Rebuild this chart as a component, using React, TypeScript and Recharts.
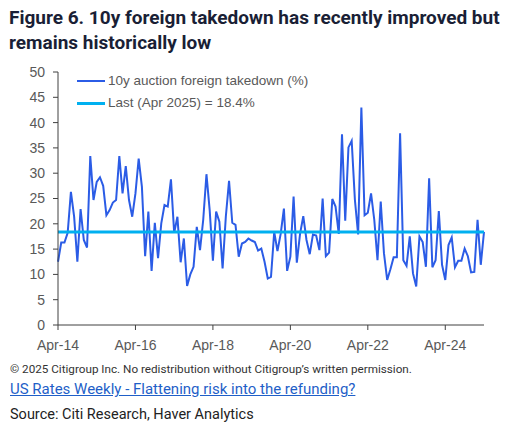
import { CartesianGrid, Line, LineChart, ReferenceLine, XAxis, YAxis } from "recharts";

// 10y auction foreign takedown (%), monthly, Apr-14 .. Apr-25
const takedown = [
  12.5, 16.3, 16.3, 18.2, 26.3, 21.4, 12.5, 22.9, 16.8, 15.3, 33.4, 24.7,
  28.3, 29.2, 27.5, 21.7, 22.7, 24.2, 24.7, 33.4, 26.0, 31.4, 24.7, 21.4,
  26.0, 32.9, 27.3, 13.6, 22.4, 10.7, 20.2, 13.2, 20.1, 23.7, 23.4, 28.8,
  18.2, 21.4, 12.4, 17.1, 7.7, 10.0, 11.5, 19.4, 14.8, 20.8, 29.8, 22.7,
  12.7, 22.4, 20.4, 11.2, 21.4, 28.5, 20.2, 19.8, 13.5, 16.1, 16.4, 17.1,
  16.7, 16.4, 14.7, 15.1, 12.5, 9.2, 9.5, 18.4, 14.6, 18.0, 23.0, 10.7,
  13.5, 25.4, 12.3, 18.0, 21.5, 16.8, 14.0, 17.9, 17.7, 14.8, 25.0, 13.6,
  14.3, 24.9, 23.4, 18.0, 37.7, 20.6, 35.1, 36.4, 24.7, 17.9, 43.0, 21.7,
  22.2, 26.0, 20.8, 12.8, 24.4, 14.2, 8.9, 11.0, 13.4, 13.4, 37.9, 12.8,
  11.7, 17.5, 10.2, 7.6, 17.5, 16.4, 11.5, 29.0, 11.4, 12.8, 22.5, 11.9,
  8.9, 15.8, 17.3, 11.4, 12.7, 12.7, 15.1, 13.6, 10.4, 10.5, 20.8, 11.9,
  18.4,
];

const lastValue = 18.4;
const tickIndex = [0, 24, 48, 72, 96, 120];
const tickLabels = ["Apr-14", "Apr-16", "Apr-18", "Apr-20", "Apr-22", "Apr-24"];
const yTicks = [0, 5, 10, 15, 20, 25, 30, 35, 40, 45, 50];

const BLUE = "#2b5ce6";
const CYAN = "#00b0f0";
const AXIS = "#404040";
const TEXT = "#595959";
const FONT = "'Liberation Sans', Arial, sans-serif";

const data = takedown.map((v, i) => ({ i, v }));

export default function App() {
  const fmtX = (i: number) => tickLabels[tickIndex.indexOf(i)] ?? "";

  return (
    <div
      style={{
        position: "absolute",
        left: 0,
        top: 0,
        width: 532,
        height: 426,
        background: "#fff",
        fontFamily: "Roboto, sans-serif",
      }}
    >
      <div
        style={{
          position: "absolute",
          left: 9,
          top: 5,
          width: 525,
          fontSize: 19,
          lineHeight: "25px",
          fontWeight: 700,
          color: "#1a1f36",
          whiteSpace: "nowrap",
        }}
      >
        Figure 6. 10y foreign takedown has recently improved but
        <br />
        remains historically low
      </div>

      <div style={{ position: "absolute", left: 0, top: 0 }}>
        <LineChart
          width={532}
          height={360}
          data={data}
          margin={{ top: 72, right: 48, bottom: 5, left: 0 }}
        >
          <CartesianGrid stroke="none" />
          <XAxis
            dataKey="i"
            type="number"
            domain={[0, 132]}
            ticks={tickIndex}
            tickFormatter={fmtX}
            stroke={AXIS}
            tickSize={5}
            tickMargin={10}
            height={30}
            tick={{ fill: TEXT, fontSize: 14, fontFamily: FONT }}
          />
          <YAxis
            domain={[0, 50]}
            ticks={yTicks}
            stroke={AXIS}
            width={58}
            tickSize={5}
            tickMargin={8}
            interval={0}
            tick={{ fill: TEXT, fontSize: 14, fontFamily: FONT }}
          />
          <Line
            type="linear"
            dataKey="v"
            stroke={BLUE}
            strokeWidth={2}
            dot={false}
            isAnimationActive={false}
          />
          <ReferenceLine y={lastValue} stroke={CYAN} strokeWidth={3} />
        </LineChart>
      </div>

      <div
        style={{
          position: "absolute",
          left: 77,
          top: 70,
          fontFamily: FONT,
          fontSize: 13.5,
          color: TEXT,
          lineHeight: "22px",
        }}
      >
        <div style={{ display: "flex", alignItems: "center" }}>
          <span style={{ width: 28, height: 2, background: BLUE, marginRight: 3 }} />
          10y auction foreign takedown (%)
        </div>
        <div style={{ display: "flex", alignItems: "center" }}>
          <span style={{ width: 28, height: 3, background: CYAN, marginRight: 3 }} />
          Last (Apr 2025) = {lastValue}%
        </div>
      </div>

      <div
        style={{
          position: "absolute",
          left: 10,
          top: 362,
          fontSize: 11.7,
          color: "#333",
          whiteSpace: "nowrap",
        }}
      >
        © 2025 Citigroup Inc. No redistribution without Citigroup’s written permission.
      </div>
      <div
        style={{
          position: "absolute",
          left: 10,
          top: 380,
          fontSize: 15,
          color: "#1f5fc8",
          textDecoration: "underline",
          whiteSpace: "nowrap",
        }}
      >
        US Rates Weekly - Flattening risk into the refunding?
      </div>
      <div
        style={{
          position: "absolute",
          left: 10,
          top: 406,
          fontSize: 14.5,
          color: "#222",
          whiteSpace: "nowrap",
        }}
      >
        Source: Citi Research, Haver Analytics
      </div>
    </div>
  );
}
